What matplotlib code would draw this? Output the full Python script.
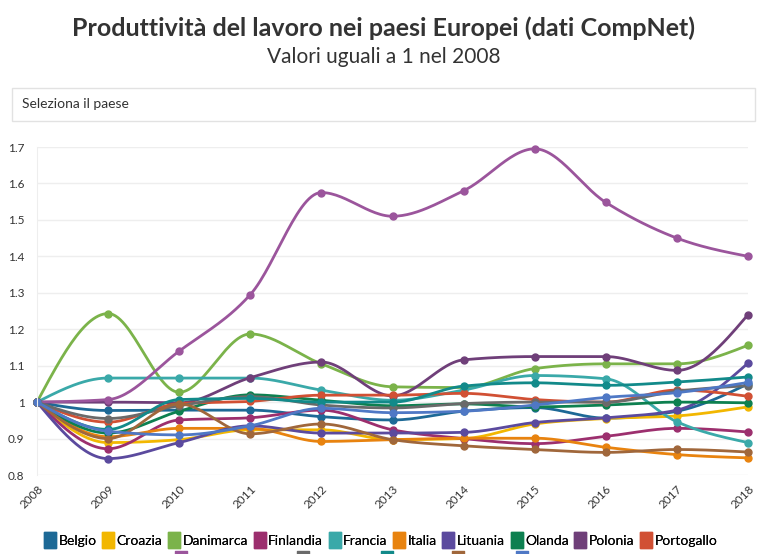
import numpy as np
import matplotlib.pyplot as plt
from matplotlib.lines import Line2D
from matplotlib.patches import FancyBboxPatch
from matplotlib.path import Path

plt.rcParams['font.family'] = ['Lato', 'DejaVu Sans']

# data: productivity index, 2008 = 1
years = [2008, 2009, 2010, 2011, 2012, 2013, 2014, 2015, 2016, 2017, 2018]

belgio = [1, 0.977, 0.978, 0.978, 0.960, 0.951, 0.975, 0.985, 0.956, 0.975, 1.050]
croazia = [1, 0.889, 0.897, 0.924, 0.924, 0.897, 0.900, 0.940, 0.955, 0.962, 0.987]
danimarca = [1, 1.243, 1.027, 1.187, 1.105, 1.042, 1.040, 1.092, 1.105, 1.105, 1.156]
finlandia = [1, 0.872, 0.951, 0.957, 0.978, 0.924, 0.900, 0.886, 0.906, 0.928, 0.918]
francia = [1, 1.066, 1.066, 1.066, 1.033, 1.005, 1.033, 1.073, 1.064, 0.946, 0.889]
italia = [1, 0.905, 0.928, 0.928, 0.892, 0.897, 0.901, 0.901, 0.876, 0.856, 0.847]
lituania = [1, 0.845, 0.889, 0.935, 0.915, 0.915, 0.917, 0.944, 0.957, 0.978, 1.107]
olanda = [1, 0.915, 0.975, 1.020, 1.005, 0.990, 0.995, 0.987, 0.992, 1.000, 0.998]
polonia = [1, 1.000, 0.998, 1.067, 1.110, 1.017, 1.116, 1.125, 1.125, 1.087, 1.240]
portogallo = [1, 0.945, 0.996, 1.002, 1.019, 1.019, 1.024, 1.007, 1.000, 1.033, 1.016]
rep_ceca = [1, 1.007, 1.140, 1.295, 1.575, 1.510, 1.580, 1.695, 1.548, 1.450, 1.400]
slovacchia = [1, 0.955, 0.990, 1.015, 0.992, 0.984, 0.996, 1.000, 1.000, 1.030, 1.045]
slovenia = [1, 0.925, 1.007, 1.010, 1.000, 1.000, 1.044, 1.053, 1.046, 1.055, 1.069]
spagna = [1, 0.900, 0.995, 0.913, 0.940, 0.897, 0.880, 0.870, 0.862, 0.870, 0.863]
ungheria = [1, 0.920, 0.910, 0.935, 0.983, 0.971, 0.975, 0.992, 1.013, 1.026, 1.054]

names = ['Belgio', 'Croazia', 'Danimarca', 'Finlandia', 'Francia', 'Italia',
         'Lituania', 'Olanda', 'Polonia', 'Portogallo',
         'Repubblica Ceca', 'Slovacchia', 'Slovenia', 'Spagna', 'Ungheria']
series = [belgio, croazia, danimarca, finlandia, francia, italia, lituania,
          olanda, polonia, portogallo, rep_ceca, slovacchia, slovenia, spagna, ungheria]
colors = ['#1d6996', '#f2b701', '#7bb34a', '#9c2f6e', '#3aa9a9', '#e8830f',
          '#5b4a9e', '#0d8050', '#6f3f79', '#d15034',
          '#9b559c', '#6a6a6a', '#128a8a', '#a0673b', '#4f78c5']
yticks = [0.8, 0.9, 1, 1.1, 1.2, 1.3, 1.4, 1.5, 1.6, 1.7]
ytick_labels = ['0.8', '0.9', '1', '1.1', '1.2', '1.3', '1.4', '1.5', '1.6', '1.7']


def monotone(x, y, n=30):
    # monotone cubic curve through the points (like d3 curveMonotoneX)
    x = np.asarray(x, float)
    y = np.asarray(y, float)
    h = np.diff(x)
    s = np.diff(y) / h
    m = np.zeros_like(y)
    for i in range(1, len(y) - 1):
        p = (s[i - 1] * h[i] + s[i] * h[i - 1]) / (h[i - 1] + h[i])
        m[i] = (np.sign(s[i - 1]) + np.sign(s[i])) * min(abs(s[i - 1]), abs(s[i]), 0.5 * abs(p))
    m[0] = (3 * s[0] - m[1]) / 2
    m[-1] = (3 * s[-1] - m[-2]) / 2
    xs, ys = [], []
    for i in range(len(x) - 1):
        t = np.linspace(0, 1, n)
        h00 = 2 * t**3 - 3 * t**2 + 1
        h10 = t**3 - 2 * t**2 + t
        h01 = -2 * t**3 + 3 * t**2
        h11 = t**3 - t**2
        xs.append(x[i] + t * h[i])
        ys.append(h00 * y[i] + h10 * h[i] * m[i] + h01 * y[i + 1] + h11 * h[i] * m[i + 1])
    return np.concatenate(xs), np.concatenate(ys)


fig = plt.figure(figsize=(7.67, 5.54), dpi=100)
ax = fig.add_axes([37 / 767, 1 - 475 / 554, 711 / 767, 328 / 554])

for vals, c in zip(series, colors):
    xs, ys = monotone(years, vals)
    ax.plot(xs, ys, color=c, lw=2.0, clip_on=False, solid_capstyle='round')
    ax.plot(years, vals, 'o', color=c, ms=5, clip_on=False)

ax.set_xlim(2008, 2018)
ax.set_ylim(0.8, 1.7)
ax.set_yticks(yticks)
ax.set_yticklabels(ytick_labels)
ax.set_xticks(years)
ax.set_xticklabels([str(y) for y in years], rotation=45, ha='right', va='top',
                   rotation_mode='anchor')
ax.tick_params(length=0, labelsize=8.5, colors='#333333', pad=6)
ax.tick_params(axis='y', pad=9)
ax.grid(axis='y', color='#eeeeee', lw=1)
ax.set_axisbelow(True)
for sp in ['top', 'right', 'bottom']:
    ax.spines[sp].set_visible(False)
ax.spines['left'].set_color('#eeeeee')

fig.text(0.5, 1 - 28 / 554, 'Produttività del lavoro nei paesi Europei (dati CompNet)',
         ha='center', va='center', fontsize=18, fontweight='bold', color='#333333')
fig.text(0.5, 1 - 57 / 554, 'Valori uguali a 1 nel 2008', ha='center', va='center',
         fontsize=15, color='#333333')

box = FancyBboxPatch((12 / 767, 1 - 121 / 554), 743 / 767, 33 / 554,
                     boxstyle='square,pad=0', transform=fig.transFigure,
                     facecolor='white', edgecolor='#e2e2e2', lw=1)
fig.patches.append(box)
fig.text(22 / 767, 1 - 104 / 554, 'Seleziona il paese', ha='left', va='center',
         fontsize=10, color='#333333')

# tall rounded-ish swatch for the legend
swatch = Path([(-0.35, -0.5), (0.35, -0.5), (0.35, 0.5), (-0.35, 0.5), (-0.35, -0.5)],
              [Path.MOVETO, Path.LINETO, Path.LINETO, Path.LINETO, Path.CLOSEPOLY])
handles = [Line2D([], [], marker=swatch, ls='', color=c, ms=12) for c in colors]
leg1 = fig.legend(handles[:10], names[:10], loc='center', ncol=10,
                  bbox_to_anchor=(0.497, 1 - 541 / 554), frameon=False,
                  fontsize=10, handlelength=0.7, handletextpad=0.25,
                  columnspacing=0.5, borderaxespad=0)
fig.add_artist(leg1)
fig.legend(handles[10:], names[10:], loc='center', ncol=5,
           bbox_to_anchor=(0.497, 1 - 560 / 554), frameon=False,
           fontsize=10, handlelength=0.7, handletextpad=0.25,
           columnspacing=0.5, borderaxespad=0)

fig.savefig('out.png', dpi=100)
